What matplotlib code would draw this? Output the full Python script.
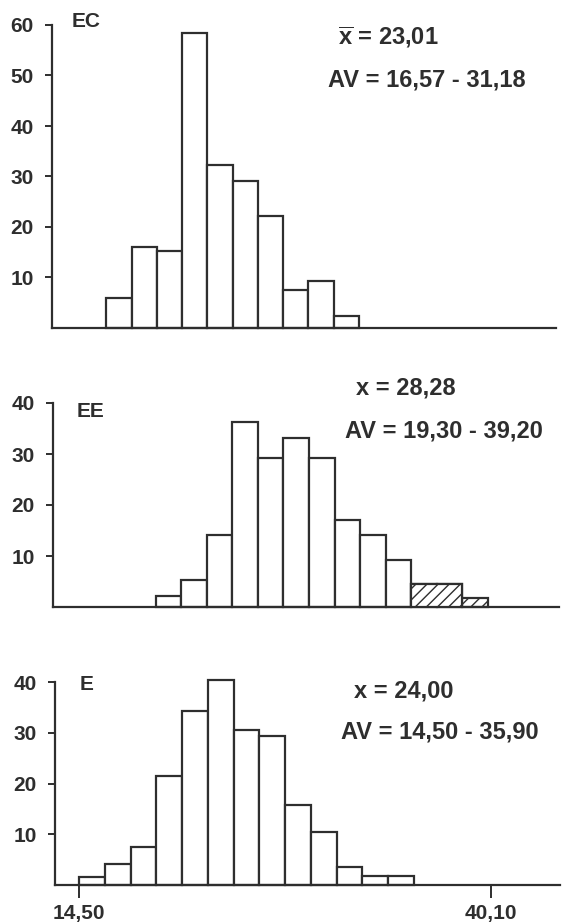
import numpy as np
import matplotlib
matplotlib.use("Agg")
import matplotlib.pyplot as plt

plt.rcParams['font.family'] = ['Liberation Sans', 'DejaVu Sans']
plt.rcParams['hatch.linewidth'] = 1.0
plt.rcParams['mathtext.fontset'] = 'custom'
plt.rcParams['mathtext.rm'] = 'Liberation Sans:bold'
plt.rcParams['mathtext.bf'] = 'Liberation Sans:bold'

INK = "#2e2e2e"
BIN = 1.6

# EC panel
ec_start = 16.1
ec_counts = [6.0, 16.0, 15.3, 58.4, 32.2, 29.1, 22.1, 7.6, 9.3, 2.4]
# EE panel (last three classes hatched)
ee_start = 19.3
ee_counts = [2.2, 5.2, 14.2, 36.2, 29.3, 33.1, 29.3, 17.0, 14.2, 9.3, 4.5, 4.5, 1.7]
ee_hatched = [False] * 10 + [True, True, True]
# E panel
e_start = 14.5
e_counts = [1.5, 4.2, 7.4, 21.5, 34.3, 40.3, 30.5, 29.3, 15.8, 10.5, 3.5, 1.7, 1.7]

panel_names = ["EC", "EE", "E"]
mean_texts = [r"$\overline{\rm x}$ = 23,01", "x = 28,28", "x = 24,00"]
range_texts = ["AV = 16,57 - 31,18", "AV = 19,30 - 39,20", "AV = 14,50 - 35,90"]
yticks_list = [[10, 20, 30, 40, 50, 60], [10, 20, 30, 40], [10, 20, 30, 40]]
ylims = [60, 40, 40]
xticks_bottom = [14.5, 40.1]
xticklabels_bottom = ["14,50", "40,10"]

W, H = 564, 922


def fx(px):
    return px / W


def fy(py):
    return 1 - py / H


fig = plt.figure(figsize=(W / 100, H / 100), dpi=100)
fig.patch.set_facecolor("white")

# axes boxes in pixels: left, right, top, baseline ; and x-limits
boxes = [(52, 556, 25, 328, (12.66, 44.6)),
         (53, 559, 403, 607, (12.86, 44.56)),
         (55, 560, 682, 885, (12.99, 44.4))]

panels = [(ec_start, ec_counts, [False] * len(ec_counts)),
          (ee_start, ee_counts, ee_hatched),
          (e_start, e_counts, [False] * len(e_counts))]

# text positions in pixels (panel label, mean line, range line)
label_pos = [(72, 27), (77, 417), (80, 690)]
mean_pos = [(338, 45), (356, 394), (354, 697)]
range_pos = [(328, 86), (345, 437), (341, 739)]

for i, (box, panel) in enumerate(zip(boxes, panels)):
    l, r, t, b, xl = box
    ax = fig.add_axes([fx(l), fy(b), (r - l) / W, (b - t) / H])
    start, counts, hatched = panel
    counts = np.array(counts)
    edges = start + BIN * np.arange(len(counts) + 1)
    lefts = edges[:-1]
    for x0, c, hat in zip(lefts, counts, hatched):
        ax.bar(x0, c, width=BIN, align="edge", color="white",
               edgecolor=INK, linewidth=1.6, hatch="///" if hat else None,
               zorder=2, clip_on=False)
    if any(hatched):
        # first two hatched classes are drawn as one block without divider
        idx = [k for k, h in enumerate(hatched) if h]
        grp = idx[:2]
        ax.bar(lefts[grp], counts[grp], width=BIN, align="edge",
               color="white", edgecolor=INK, linewidth=0, hatch="///",
               zorder=3)
        ax.stairs(counts[grp], edges[grp[0]:grp[-1] + 2], baseline=0,
                  color=INK, linewidth=1.6, zorder=4)
    ax.set_xlim(*xl)
    ax.set_ylim(0, ylims[i])
    for s in ["top", "right"]:
        ax.spines[s].set_visible(False)
    for s in ["left", "bottom"]:
        ax.spines[s].set_color(INK)
        ax.spines[s].set_linewidth(1.6)
        ax.spines[s].set_zorder(5)
    ax.set_yticks(yticks_list[i])
    ax.tick_params(axis="y", length=5, width=1.4, color=INK, pad=8,
                   labelsize=15, labelcolor=INK)
    for lab in ax.get_yticklabels():
        lab.set_fontweight("bold")
    if i == 2:
        ax.set_xticks(xticks_bottom)
        ax.set_xticklabels(xticklabels_bottom, fontsize=15,
                           fontweight="bold", color=INK)
        ax.tick_params(axis="x", length=9, width=1.4, color=INK, pad=5)
    else:
        ax.set_xticks([])

    fig.text(fx(label_pos[i][0]), fy(label_pos[i][1]), panel_names[i],
             fontsize=15, fontweight="bold", color=INK, va="baseline")
    fig.text(fx(mean_pos[i][0]), fy(mean_pos[i][1]), mean_texts[i],
             fontsize=17, fontweight="bold", color=INK, va="baseline")
    fig.text(fx(range_pos[i][0]), fy(range_pos[i][1]), range_texts[i],
             fontsize=17, fontweight="bold", color=INK, va="baseline")

fig.savefig("out.png", dpi=100, facecolor="white")
